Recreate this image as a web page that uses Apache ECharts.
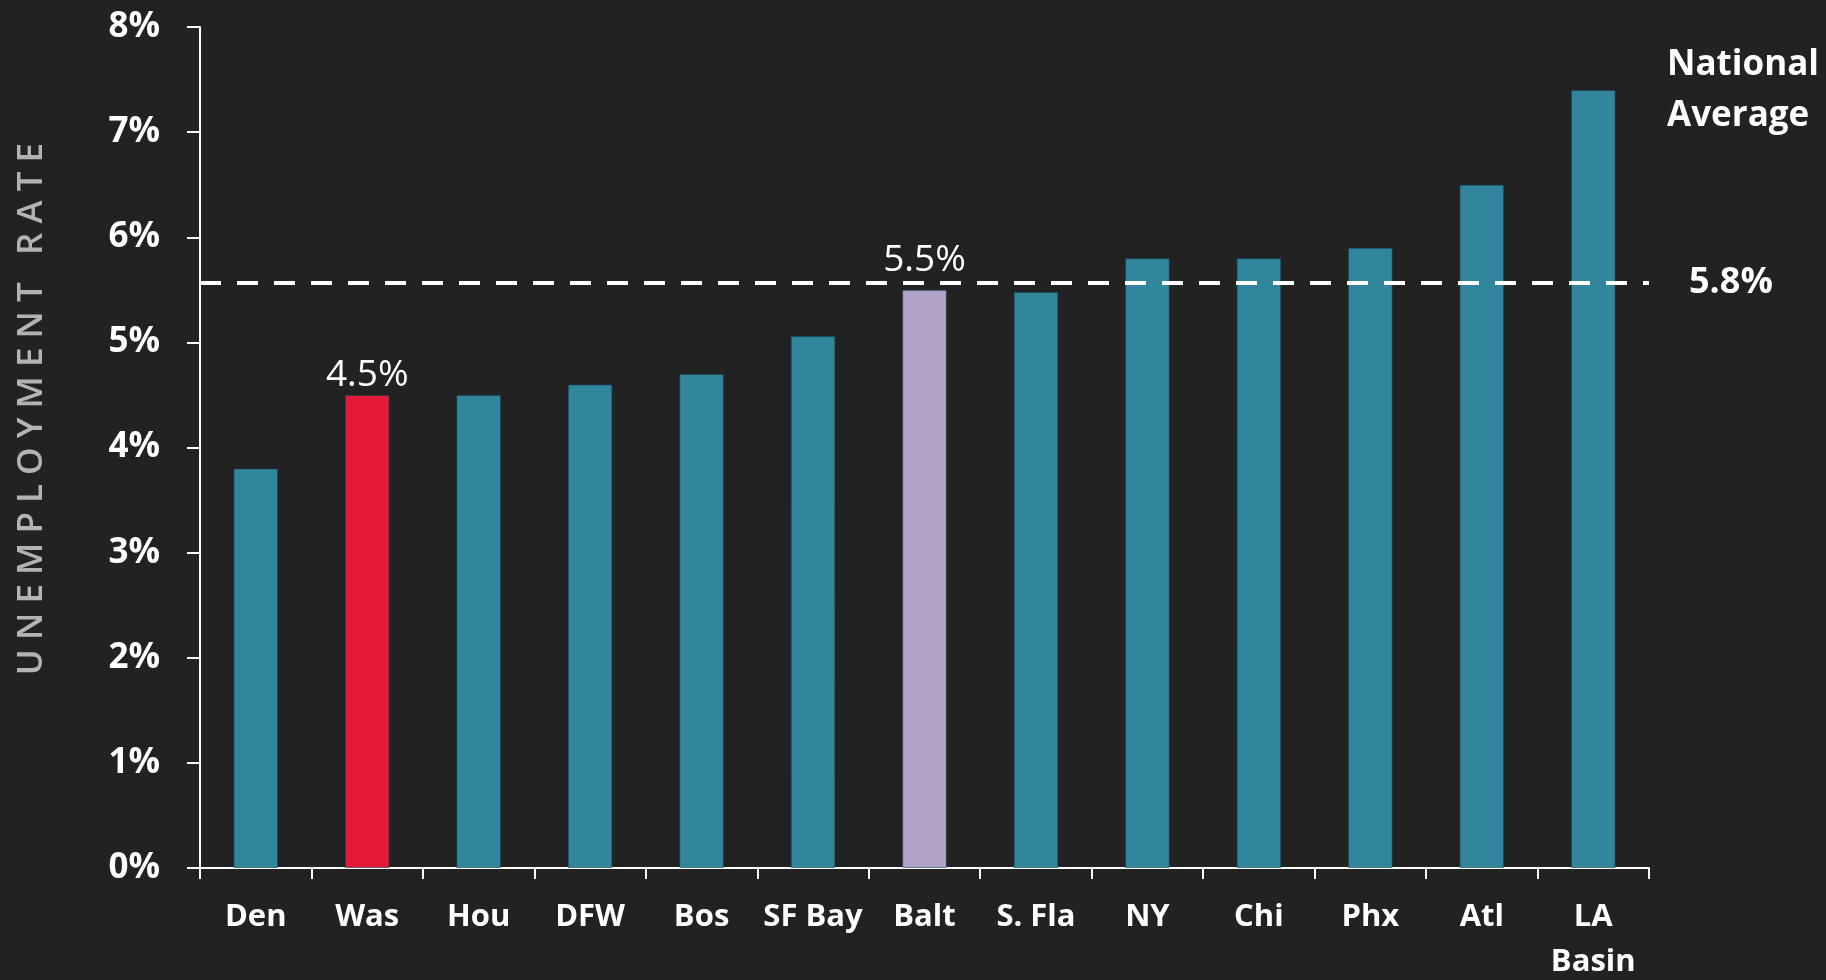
<!DOCTYPE html>
<html>
<head>
<meta charset="utf-8">
<script src="https://cdn.jsdelivr.net/npm/echarts@6/dist/echarts.min.js"></script>
<style>
html,body{margin:0;padding:0;background:#222222;overflow:hidden;}
#chart{width:1826px;height:980px;}
</style>
</head>
<body>
<div id="chart"></div>
<script>
const categories = ['Den','Was','Hou','DFW','Bos','SF Bay','Balt','S. Fla','NY','Chi','Phx','Atl','LA\nBasin'];
const values = [3.8, 4.5, 4.5, 4.6, 4.7, 5.06, 5.5, 5.48, 5.8, 5.8, 5.9, 6.5, 7.4];
const yTicks = [0,1,2,3,4,5,6,7,8];
const nationalAverageLine = 5.57;
const nationalAverageLabel = '5.8%';
const highlightColors = { 'Was': '#e31937', 'Balt': '#b3a2c7' };
const valueLabels = { 'Was': '4.5%', 'Balt': '5.5%' };
const valueLabelGaps = { 'Was': 1, 'Balt': 11 };

const FONT = '"Open Sans", "Liberation Sans", sans-serif';
const baseColor = '#31859c';

const seriesData = values.map((v, i) => {
  const c = categories[i];
  const item = { value: v, itemStyle: { color: highlightColors[c] || baseColor } };
  if (valueLabels[c]) {
    item.label = {
      show: true, position: 'top', distance: valueLabelGaps[c],
      formatter: valueLabels[c],
      color: '#ffffff', fontFamily: FONT, fontSize: 37, fontWeight: 'normal'
    };
  }
  return item;
});

const chart = echarts.init(document.getElementById('chart'));
chart.setOption({
  backgroundColor: '#222222',
  animation: false,
  grid: { left: 200, right: 177, top: 27, bottom: 112, containLabel: false, outerBoundsMode: 'none' },
  xAxis: {
    type: 'category',
    data: categories,
    boundaryGap: true,
    axisLine: { lineStyle: { color: '#ffffff', width: 2 } },
    axisTick: { show: true, alignWithLabel: false, length: 11, lineStyle: { color: '#ffffff', width: 2 } },
    axisLabel: { color: '#ffffff', fontFamily: FONT, fontWeight: 'bold', fontSize: 31, lineHeight: 45, margin: 27, interval: 0 }
  },
  yAxis: {
    type: 'value',
    min: yTicks[0], max: yTicks[yTicks.length - 1], interval: 1,
    splitLine: { show: false },
    axisLine: { show: true, lineStyle: { color: '#ffffff', width: 2 } },
    axisTick: { show: true, length: 13, lineStyle: { color: '#ffffff', width: 2 } },
    axisLabel: { color: '#ffffff', fontFamily: FONT, fontWeight: 'bold', fontSize: 35, margin: 40, formatter: v => v + '%' }
  },
  series: [{
    type: 'bar',
    data: seriesData,
    barWidth: '40%',
    itemStyle: { borderColor: 'rgba(20,70,85,0.6)', borderWidth: 1 },
    markLine: {
      silent: true,
      symbol: ['none','none'],
      lineStyle: { color: '#ffffff', width: 4, type: [21, 16] },
      label: {
        show: true, position: 'end', distance: 40,
        formatter: nationalAverageLabel,
        color: '#ffffff', fontFamily: FONT, fontWeight: 'bold', fontSize: 36
      },
      data: [{ yAxis: nationalAverageLine }]
    }
  }],
  graphic: [
    {
      type: 'text', left: 1667, top: 40,
      style: { text: 'National\nAverage', fill: '#ffffff', font: 'bold 35px ' + FONT, lineHeight: 51 }
    },
    {
      type: 'text', x: 32, y: 409, rotation: Math.PI / 2,
      style: { text: 'U N E M P L O Y M E N T   R A T E', fill: '#b3b3b3', font: '600 35px ' + FONT, align: 'center', verticalAlign: 'middle' }
    }
  ]
});
</script>
</body>
</html>
